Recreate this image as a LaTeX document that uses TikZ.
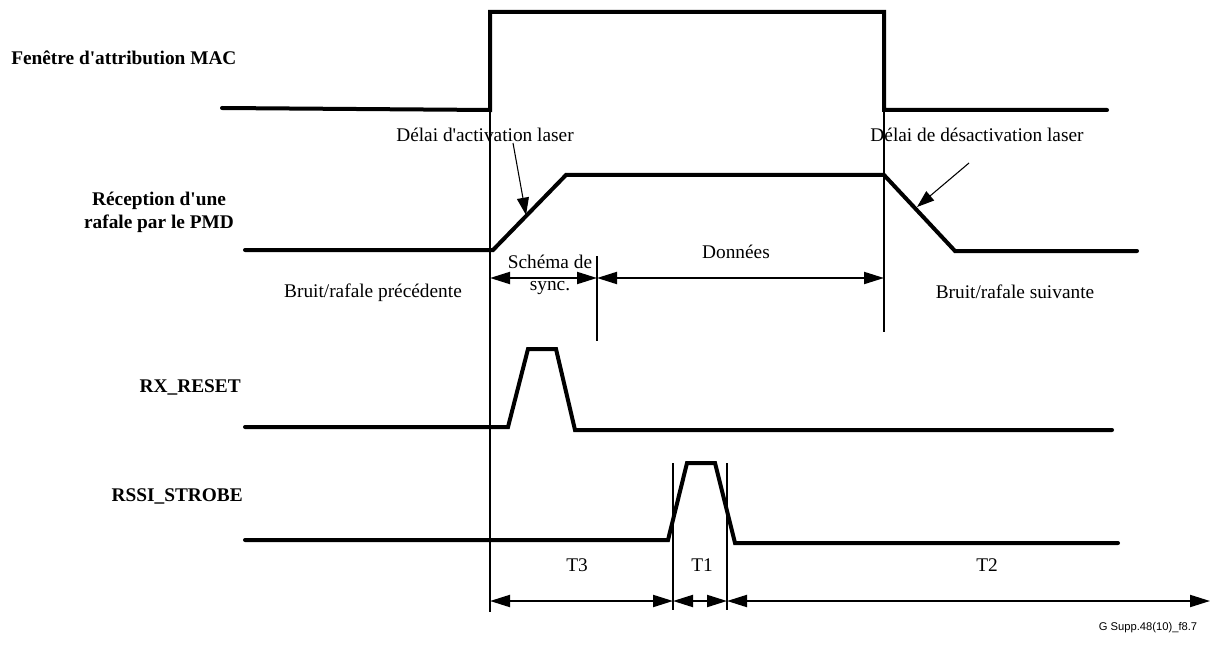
\documentclass[tikz,border=0pt]{standalone}
\usepackage{fontspec}
\setmainfont{Liberation Serif}
\newfontfamily\idsans{Liberation Sans}
\usetikzlibrary{arrows.meta}
\newcommand{\apos}{\textquotesingle}
\begin{document}
\begin{tikzpicture}[x=0.75pt,y=-0.75pt,
  wave/.style={line width=3pt, line join=miter, line cap=round},
  guide/.style={line width=1pt},
  dimarrow/.style={line width=1.5pt, {Triangle[length=15pt,width=9pt]}-{Triangle[length=15pt,width=9pt]}},
  callout/.style={line width=0.8pt, -{Triangle[length=13pt,width=9pt]}},
  lbl/.style={font=\fontsize{14.5}{16.5}\selectfont, inner sep=0pt, align=center},
  sig/.style={font=\fontsize{14.5}{17.25}\selectfont\bfseries, inner sep=0pt, align=center}]
\useasboundingbox (0,0) rectangle (1212,645);

% signal labels
\node[sig, anchor=west] (macL) at (11,58) {Fenêtre d\apos attribution MAC};
\node[sig] (pmdL) at (159,212) {Réception d\apos une\\rafale par le PMD};
\node[sig, anchor=east] (rxL) at (241,387) {RX\_RESET};
\node[sig, anchor=east] (rsL) at (243,496) {RSSI\_STROBE};

% waveforms
\draw[wave] (222,108) -- (490,110) -- (490,12) -- (884,12) -- (884,110) -- (1107,110);
\draw[wave] (245,250) -- (493,250) -- (566,175) -- (884,175) -- (955,251) -- (1137,251);
\draw[wave] (245,427) -- (508,427) -- (528,349) -- (556,349) -- (575,430) -- (1112,430);
\draw[wave] (245,540) -- (668,540) -- (687,463) -- (715,463) -- (735,543) -- (1118,543);

% guide coordinates
\coordinate (g1t) at (490,110);
\coordinate (g1b) at (490,612);
\coordinate (g2t) at (884,110);
\coordinate (g2b) at (884,332);
\coordinate (g3t) at (597,256);
\coordinate (g3b) at (597,341);
\coordinate (g4t) at (673,463);
\coordinate (g4b) at (673,610);
\coordinate (g5t) at (727,463);
\coordinate (g5b) at (727,610);
\draw[guide] (g1t) -- (g1b);
\draw[guide] (g2t) -- (g2b);
\draw[guide] (g3t) -- (g3b);
\draw[guide] (g4t) -- (g4b);
\draw[guide] (g5t) -- (g5b);

% dimension arrows
\coordinate (d1) at (490,278);
\coordinate (d2) at (597,278);
\coordinate (d3) at (884,278);
\draw[dimarrow] (d1) -- (d2);
\draw[dimarrow] (d2) -- (d3);
\coordinate (t0) at (490,601);
\coordinate (t1) at (673,601);
\coordinate (t2) at (727,601);
\coordinate (t3) at (1210,601);
\draw[dimarrow] (t0) -- (t1);
\draw[dimarrow] (t1) -- (t2);
\draw[dimarrow] (t2) -- (t3);

% callouts
\node[lbl] (onL) at (485,135) {Délai d\apos activation laser};
\node[lbl] (offL) at (977,135) {Délai de désactivation laser};
\coordinate (onS) at (513,143);
\coordinate (onE) at (526,215);
\coordinate (offS) at (969,163);
\coordinate (offE) at (917,207);
\draw[callout] (onS) -- (onE);
\draw[callout] (offS) -- (offE);

% labels
\node[lbl] (sync) at (550,275) {Schéma de\\sync.};
\node[lbl] (data) at (736,252) {Données};
\node[lbl] (prev) at (373,293) {Bruit/rafale précédente};
\node[lbl] (next) at (1015,292) {Bruit/rafale suivante};
\node[lbl] (T3) at (577,565) {T3};
\node[lbl] (T1) at (702,565) {T1};
\node[lbl] (T2) at (987,565) {T2};
\node[font=\idsans\fontsize{8.4}{10}\selectfont, inner sep=0pt] (fid) at (1148,628) {G Supp.48(10)\_f8.7};
\end{tikzpicture}
\end{document}
